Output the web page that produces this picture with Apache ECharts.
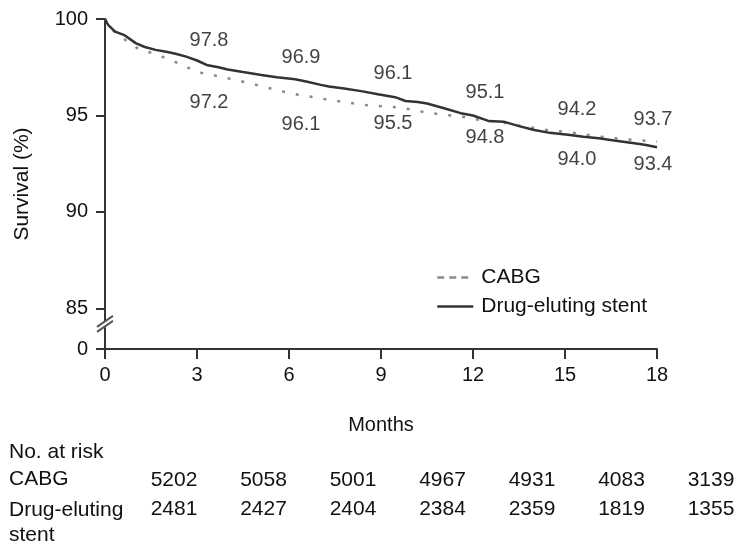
<!DOCTYPE html>
<html>
<head>
<meta charset="utf-8">
<script src="https://cdn.jsdelivr.net/npm/echarts@6/dist/echarts.min.js"></script>
<style>
  html, body { margin: 0; padding: 0; background: #fff; }
  #chart { width: 748px; height: 544px; }
</style>
</head>
<body>
<div id="chart"></div>
<script>
// Kaplan-Meier curves (time in months, survival in %)
const desTime = [0, 0.1, 0.33, 0.65, 1.0, 1.3, 1.65, 2.0, 2.3, 2.65, 3.0, 3.35, 3.7, 4.0, 4.5, 5.1, 5.6, 6.2, 6.6, 7.0, 7.3, 7.8, 8.4, 8.9, 9.46, 9.8, 10.2, 10.5, 11.0, 11.6, 12.0, 12.5, 13.0, 13.5, 14.0, 14.5, 15.1, 15.6, 16.1, 16.6, 17.2, 17.6, 18.0]
const desSurv = [100, 99.7, 99.35, 99.15, 98.75, 98.55, 98.4, 98.3, 98.2, 98.05, 97.85, 97.6, 97.5, 97.38, 97.25, 97.1, 96.98, 96.88, 96.75, 96.6, 96.5, 96.4, 96.25, 96.1, 95.95, 95.75, 95.7, 95.62, 95.4, 95.12, 95.0, 94.72, 94.68, 94.45, 94.25, 94.1, 94.0, 93.9, 93.82, 93.7, 93.57, 93.48, 93.35]

const cabgTime = [0, 0.15, 0.33, 0.72, 1.14, 1.6, 2.05, 2.54, 2.95, 3.5, 4.0, 4.5, 4.9, 5.4, 5.8, 6.3, 6.8, 7.3, 7.9, 8.4, 9.0, 9.7, 10.0, 10.5, 11.0, 11.6, 12.2, 12.8, 13.4, 14.0, 14.5, 15.1, 15.6, 16.1, 16.6, 17.2, 18.0]
const cabgSurv = [100, 99.6, 99.3, 98.85, 98.4, 98.22, 97.92, 97.62, 97.27, 97.1, 96.93, 96.75, 96.6, 96.4, 96.24, 96.07, 95.95, 95.81, 95.68, 95.55, 95.48, 95.4, 95.3, 95.15, 95.05, 94.95, 94.78, 94.68, 94.5, 94.35, 94.22, 94.14, 94.02, 93.91, 93.82, 93.74, 93.65]

// printed survival estimates at 3, 6, ... 18 months
const labelMonths = [3, 6, 9, 12, 15, 18]
const desLabels = [97.8, 96.9, 96.1, 95.1, 94.0, 93.4]
const cabgLabels = [97.2, 96.1, 95.5, 94.8, 94.2, 93.7]

// number at risk table
const riskGroups = ['CABG', 'Drug-eluting\nstent']
const riskCabg = [5202, 5058, 5001, 4967, 4931, 4083, 3139]
const riskDes = [2481, 2427, 2404, 2384, 2359, 1819, 1355]

// y axis: the bottom of the axis stands for 0 (broken axis)
const yBottom = 82.9
const yTicks = [yBottom, 85, 90, 95, 100]

const FONT = '"Liberation Sans", Arial, Helvetica, sans-serif'
const TXT = '#111'
const AXIS = '#333'
const GREY = '#8a8a8a'

// label vertical offsets (style only)
const belowGap = [29, 30, 18, 18, 25, 18]
const aboveGap = -21

function zip(xs, ys) {
  return xs.map((x, i) => [x, ys[i]])
}

function labelData() {
  const above = []
  const below = []
  labelMonths.forEach((m, i) => {
    const hi = Math.max(desLabels[i], cabgLabels[i])
    const lo = Math.min(desLabels[i], cabgLabels[i])
    const dx = m === 18 ? -4 : 12
    above.push({ value: [m, hi], label: { offset: [dx, aboveGap] } })
    below.push({ value: [m, lo], label: { offset: [dx, belowGap[i]] } })
  })
  return above.concat(below)
}

const chart = echarts.init(document.getElementById('chart'))

const option = {
  animation: false,
  textStyle: { fontFamily: FONT, color: TXT },
  grid: { left: 105, right: 91, top: 19, bottom: 195 },
  legend: {
    orient: 'vertical',
    left: 431,
    top: 262,
    itemWidth: 36,
    itemHeight: 14,
    itemGap: 8,
    textStyle: { fontSize: 21, color: TXT, fontFamily: FONT, padding: [0, 0, 0, 3] },
    data: [
      { name: 'CABG', itemStyle: { opacity: 0 }, lineStyle: { type: [7, 5], width: 2.5, color: GREY } },
      { name: 'Drug-eluting stent', itemStyle: { opacity: 0 }, lineStyle: { width: 2.5, color: AXIS } }
    ]
  },
  xAxis: {
    type: 'value',
    min: 0,
    max: 18,
    interval: 3,
    name: 'Months',
    nameLocation: 'middle',
    nameGap: 66,
    nameTextStyle: { fontSize: 20, color: TXT, fontFamily: FONT },
    axisLine: { lineStyle: { color: AXIS, width: 2 } },
    axisTick: { length: 10, lineStyle: { color: AXIS, width: 2 } },
    axisLabel: { fontSize: 20, color: TXT, margin: 16, fontFamily: FONT },
    splitLine: { show: false }
  },
  yAxis: {
    type: 'value',
    min: yBottom,
    max: 100,
    name: 'Survival (%)',
    nameLocation: 'middle',
    nameGap: 72,
    nameTextStyle: { fontSize: 21, color: TXT, fontFamily: FONT },
    axisLine: { show: true, lineStyle: { color: AXIS, width: 2 } },
    axisTick: { show: true, length: 9, customValues: yTicks, lineStyle: { color: AXIS, width: 2 } },
    axisLabel: {
      fontSize: 20,
      color: TXT,
      margin: 17,
      fontFamily: FONT,
      customValues: yTicks,
      formatter: v => (v < 84 ? '0' : String(Math.round(v)))
    },
    splitLine: { show: false }
  },
  series: [
    {
      name: 'CABG',
      type: 'line',
      symbol: 'none',
      data: zip(cabgTime, cabgSurv),
      lineStyle: { color: GREY, width: 2.5, type: [3, 11] },
      itemStyle: { color: GREY },
      z: 3
    },
    {
      name: 'Drug-eluting stent',
      type: 'line',
      symbol: 'none',
      data: zip(desTime, desSurv),
      lineStyle: { color: AXIS, width: 2.5 },
      itemStyle: { color: AXIS },
      z: 4
    },
    {
      name: 'labels',
      type: 'scatter',
      symbolSize: 0,
      silent: true,
      data: labelData(),
      label: {
        show: true,
        position: 'inside',
        fontSize: 20,
        color: TXT,
        fontFamily: FONT,
        formatter: p => p.value[1].toFixed(1)
      },
      z: 5
    }
  ]
}

chart.setOption(option)

// broken-axis mark and number-at-risk table
function extras() {
  const brk = chart.convertToPixel({ gridIndex: 0 }, [0, 84.2])
  const bx = brk[0]
  const by = brk[1]
  const els = []
  els.push({
    type: 'polygon',
    shape: { points: [[bx - 8, by + 3], [bx + 8, by - 8], [bx + 8, by - 3], [bx - 8, by + 8]] },
    style: { fill: '#fff' },
    z: 10
  })
  ;[[-8, 3, 8, -8], [-8, 8, 8, -3]].forEach(s => {
    els.push({
      type: 'line',
      shape: { x1: bx + s[0], y1: by + s[1], x2: bx + s[2], y2: by + s[3] },
      style: { stroke: '#555', lineWidth: 2 },
      z: 11
    })
  })

  const tStyle = { fontSize: 21, fontFamily: FONT, fill: TXT }
  els.push({ type: 'text', left: 9, top: 442, style: Object.assign({ text: 'No. at risk' }, tStyle) })
  els.push({ type: 'text', left: 9, top: 469, style: Object.assign({ text: riskGroups[0] }, tStyle) })
  els.push({
    type: 'text', left: 9, top: 498,
    style: Object.assign({ text: riskGroups[1], lineHeight: 25 }, tStyle)
  })
  ;[riskCabg, riskDes].forEach((row, r) => {
    row.forEach((n, i) => {
      els.push({
        type: 'text',
        x: 174 + i * 89.5,
        y: 480 + r * 29,
        style: Object.assign({ text: String(n), align: 'center', verticalAlign: 'middle' }, tStyle)
      })
    })
  })
  chart.setOption({ graphic: els })
}

extras()
</script>
</body>
</html>
